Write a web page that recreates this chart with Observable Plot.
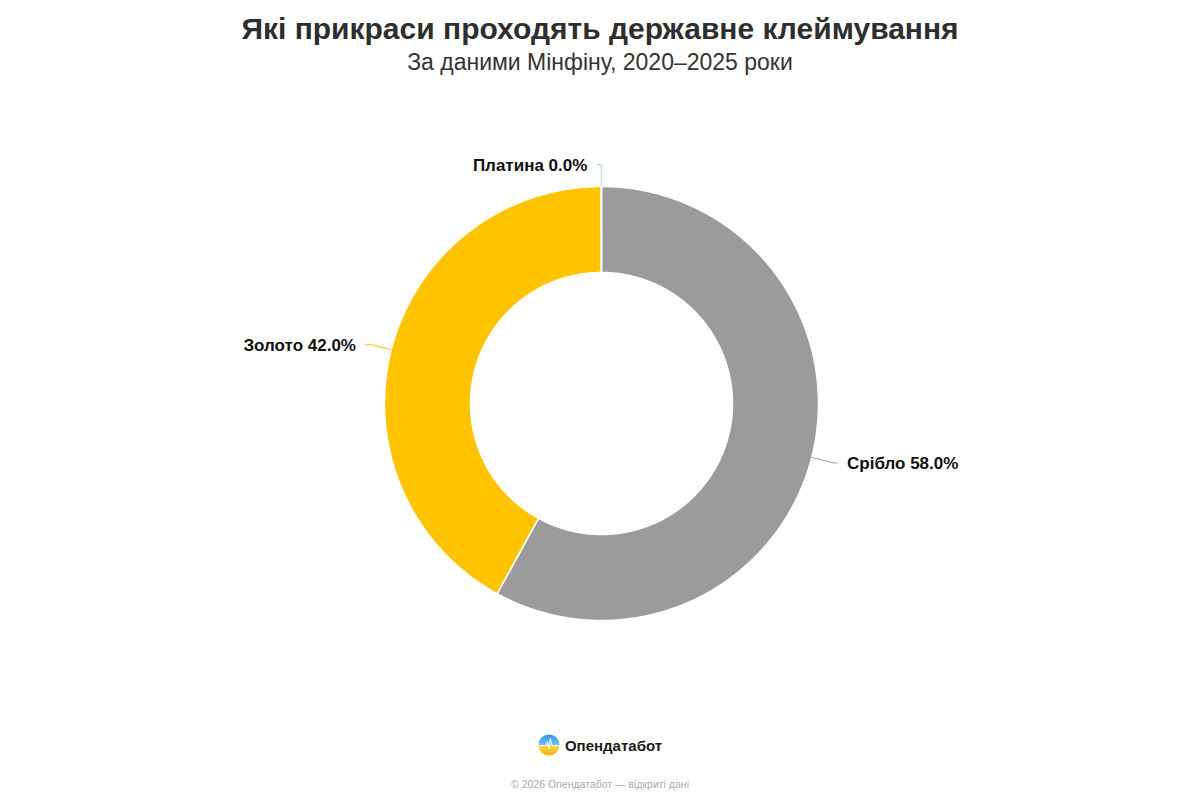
<!DOCTYPE html>
<html>
<head>
<meta charset="utf-8">
<script src="https://cdn.jsdelivr.net/npm/d3@7"></script>
<script src="https://cdn.jsdelivr.net/npm/@observablehq/plot@0.6"></script>
<style>
  html, body { margin: 0; padding: 0; background: #fff; }
  body { width: 1200px; height: 800px; position: relative; overflow: hidden; font-family: "Liberation Sans", Arial, sans-serif; }
  #title { position: absolute; top: 11px; left: 0; width: 1200px; text-align: center; font-size: 30px; line-height: 36px; font-weight: bold; color: #2e2e2e; }
  #subtitle { position: absolute; top: 48px; left: 0; width: 1200px; text-align: center; font-size: 23px; line-height: 28px; color: #333; }
  #chart { position: absolute; top: 90px; left: 0; }
  #logo { position: absolute; top: 734px; left: 0; width: 1200px; display: flex; justify-content: center; align-items: center; gap: 5px; font-size: 15px; font-weight: bold; color: #1a1a1a; }
  #copy { position: absolute; top: 778px; left: 0; width: 1200px; text-align: center; font-size: 10.5px; color: #aaa; }
</style>
</head>
<body>
<div id="title">Які прикраси проходять державне клеймування</div>
<div id="subtitle">За даними Мінфіну, 2020–2025 роки</div>
<div id="chart"></div>
<div id="logo">
  <svg width="22" height="22" viewBox="0 0 24 24">
    <defs>
      <clipPath id="c"><circle cx="12" cy="12" r="11.5"/></clipPath>
      <linearGradient id="g" x1="0" y1="0" x2="0" y2="1">
        <stop offset="0" stop-color="#2f8fe0"/>
        <stop offset="0.48" stop-color="#6fc0ef"/>
        <stop offset="0.52" stop-color="#ffd34d"/>
        <stop offset="1" stop-color="#f2b600"/>
      </linearGradient>
    </defs>
    <g clip-path="url(#c)">
      <rect x="0" y="0" width="24" height="24" fill="url(#g)"/>
      <path d="M0 12.5 L9 12.5 L10.5 9 L12 16 L13.5 5 L15 12.5 L24 12.5" stroke="#e8f6ff" stroke-width="1.2" fill="none"/>
    </g>
  </svg>
  <span>Опендатабот</span>
</div>
<div id="copy">© 2026 Опендатабот — відкриті дані</div>
<script>
// ---- data ----
const categories = ["Срібло", "Золото", "Платина"];
const shares = [58.0, 42.0, 0.02];
const colors = ["#9b9b9b", "#ffc300", "#a9d9ec"];
const labelText = ["Срібло 58.0%", "Золото 42.0%", "Платина 0.0%"];

// ---- geometry from data ----
const outerR = 217, innerR = 131, leaderR = 239;
const total = d3.sum(shares);
let acc = 0;
const slices = categories.map((c, i) => {
  const a0 = acc / total * 2 * Math.PI;
  acc += shares[i];
  const a1 = acc / total * 2 * Math.PI;
  return {cat: c, a0, a1, mid: (a0 + a1) / 2, color: colors[i], label: labelText[i]};
});
const pt = (r, a) => ({x: r * Math.sin(a), y: -r * Math.cos(a)});

const arcPts = [];
for (const s of slices) {
  const n = Math.max(2, Math.ceil((s.a1 - s.a0) / (Math.PI / 360)));
  for (let k = 0; k <= n; k++) arcPts.push({cat: s.cat, ...pt(outerR, s.a0 + (s.a1 - s.a0) * k / n)});
  for (let k = n; k >= 0; k--) arcPts.push({cat: s.cat, ...pt(innerR, s.a0 + (s.a1 - s.a0) * k / n)});
}

const leaders = [];
const labels = [];
for (const s of slices) {
  const p0 = pt(outerR, s.mid), p1 = pt(leaderR, s.mid);
  const side = p1.x >= 0 ? 1 : -1;
  const p2 = {x: p1.x + side * 4, y: p1.y};
  leaders.push({cat: s.cat, ...p0}, {cat: s.cat, ...p1}, {cat: s.cat, ...p2});
  labels.push({cat: s.cat, x: p2.x + side * 10, y: p2.y + 1, text: s.label, anchor: side > 0 ? "start" : "end"});
}

const W = 1200, H = 620, cx = 601, cy = 313;
const colorScale = {domain: categories, range: colors};

const chart = Plot.plot({
  width: W, height: H,
  margin: 0,
  x: {domain: [-cx, W - cx], range: [0, W], axis: null},
  y: {domain: [-cy, H - cy], range: [0, H], axis: null},
  color: colorScale,
  style: {background: "#fff", fontFamily: "Liberation Sans, Arial, sans-serif"},
  marks: [
    Plot.line(arcPts, {x: "x", y: "y", z: "cat", fill: "cat", stroke: "#fff", strokeWidth: 1.5, strokeLinejoin: "round", curve: "linear-closed"}),
    Plot.line(leaders, {x: "x", y: "y", z: "cat", stroke: "cat", strokeWidth: 1}),
    Plot.text(labels.filter(d => d.anchor === "start"), {x: "x", y: "y", text: "text", textAnchor: "start", fontSize: 17, fontWeight: "bold", fill: "#111", lineAnchor: "middle"}),
    Plot.text(labels.filter(d => d.anchor === "end"), {x: "x", y: "y", text: "text", textAnchor: "end", fontSize: 17, fontWeight: "bold", fill: "#111", lineAnchor: "middle"})
  ]
});
document.getElementById("chart").appendChild(chart);
</script>
</body>
</html>
